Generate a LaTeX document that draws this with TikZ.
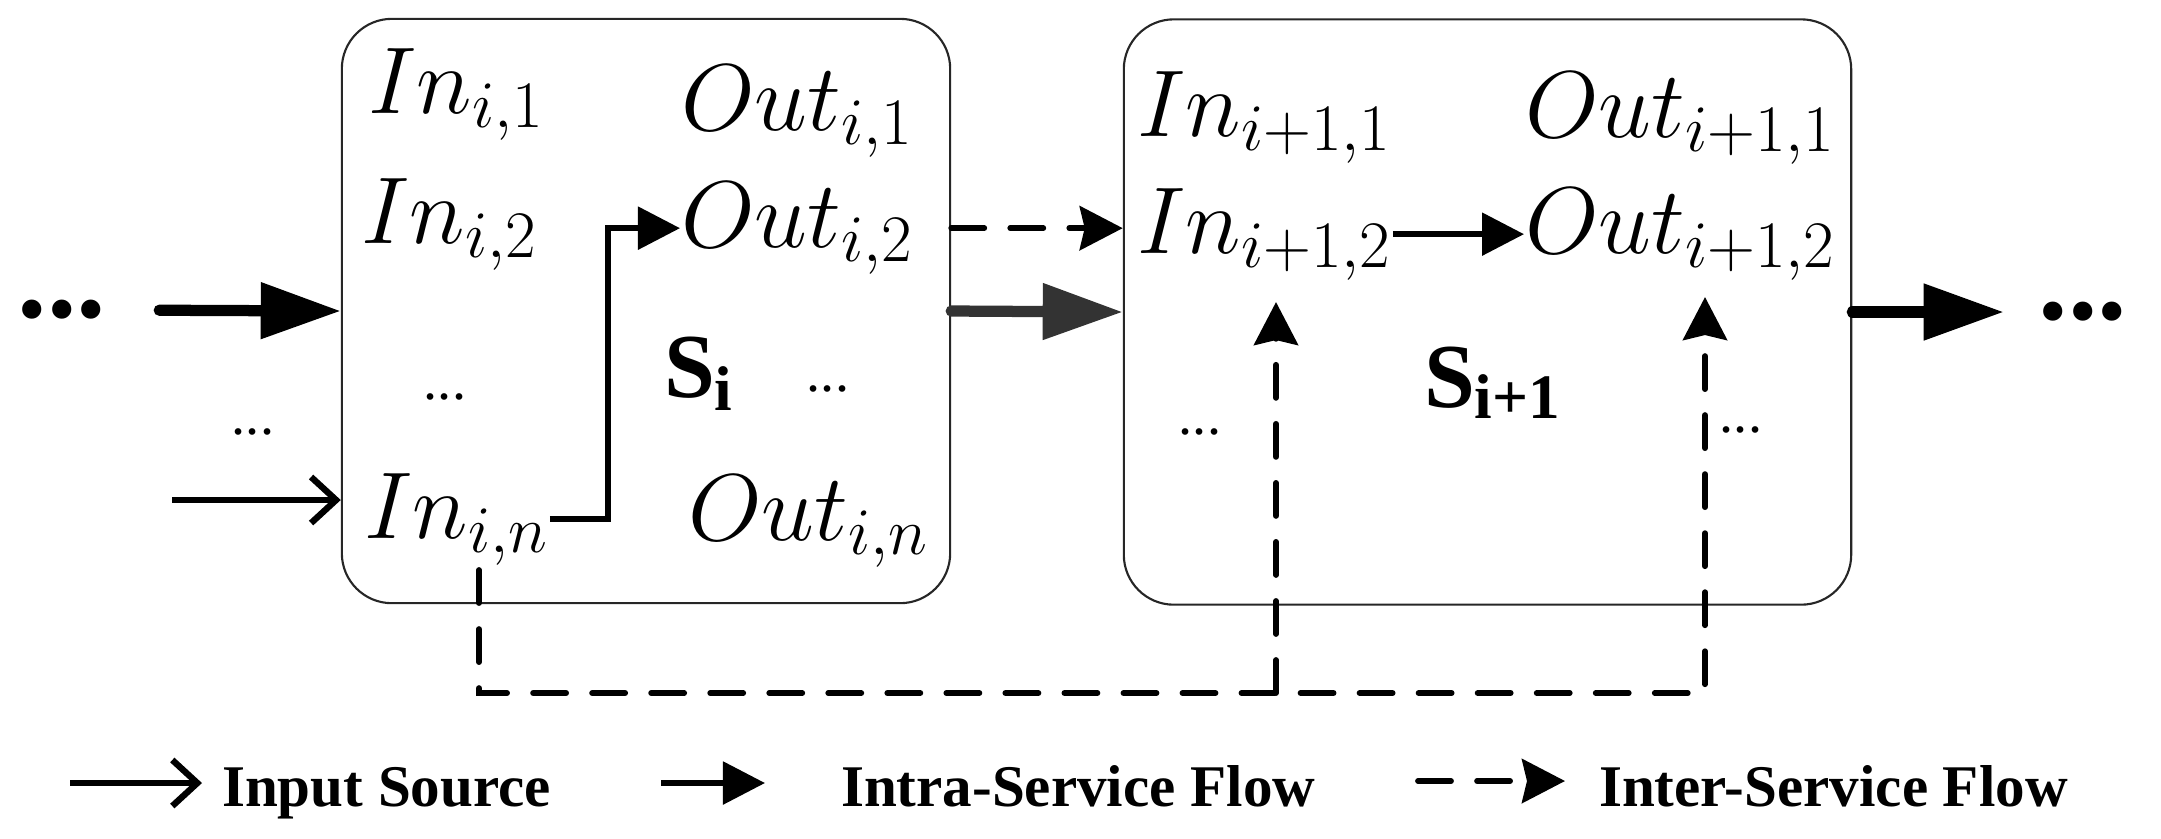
\documentclass[tikz,border=0pt]{standalone}
\usepackage{fix-cm}
\usepackage[no-math]{fontspec}
\usepackage{graphicx}
\usepackage{tikz}
\usetikzlibrary{positioning}
\usetikzlibrary{calc}
\usetikzlibrary{arrows.meta}
\newfontfamily\timesfont{Liberation Serif}
\newcommand{\subfont}{\fontsize{18}{18}\selectfont}
\tikzset{every picture/.style={line width=0.6pt},
svc/.style={draw=black!85,rounded corners=0.5cm},
lbl/.style={anchor=base west,inner sep=0pt,font=\fontsize{27}{32}\selectfont},
svcname/.style={anchor=base west,inner sep=0pt,font=\timesfont\bfseries\fontsize{26}{30}\selectfont},
bigdots/.style={inner sep=0pt,font=\timesfont\bfseries\fontsize{33.5}{36}\selectfont},
few/.style={inner sep=0pt,font=\timesfont\fontsize{16}{18}\selectfont},
key/.style={anchor=base west,inner sep=0pt,font=\timesfont\bfseries\fontsize{16.8}{20}\selectfont},
flow/.style={line width=3.2pt,line cap=round,-{Triangle[length=0.8cm,width=0.54cm]}},
intra/.style={line width=1.6pt,-{Triangle[length=0.42cm,width=0.42cm]}},
inter/.style={line width=1.65pt,line cap=round,dash pattern=on 0.33cm off 0.26cm,-{Stealth[length=0.43cm,width=0.44cm,inset=0.05cm]}},
source/.style={line width=1.8pt,-{Straight Barb[length=0.25cm,width=0.46cm]}}}

\begin{document}
\begin{tikzpicture}[x=0.01cm,y=-0.01cm]
\useasboundingbox (0,0) rectangle (2161,838);
\node (box1) at (646,311) [svc, minimum width=6.08cm, minimum height=5.84cm] {};
\node (box2) at (1487.5,312) [svc, minimum width=7.27cm, minimum height=5.85cm] {};

\foreach \nm/\x/\y/\txt in {ini1/367/113/{In_{i,1}}, outi1/680/130/{Out_{i,1}}, ini2/360/243/{In_{i,2}}, outi2/680/247/{Out_{i,2}}, inin/363/538/{In_{i,n}}, outin/687/540/{Out_{i,n}}, inj1/1136/136/{In_{i+1,1}}, outj1/1524/137/{Out_{i+1,1}}, inj2/1136/253/{In_{i+1,2}}, outj2/1524/253/{Out_{i+1,2}}} {
\node (\nm) at (\x,\y) [lbl] {$\txt$};
}
\node (si) at (663,397) [svcname] {S\raisebox{-3.7pt}{\subfont i}};
\node (sj) at (1423,407) [svcname] {S\raisebox{-3.4pt}{\subfont i+1}};

\foreach \k/\x/\y in {1/253/432, 2/445/397, 3/828/389, 4/1200/432, 5/1741/430} {
\node (e\k) at (\x,\y) [few] {...};
}
\node (ld) at (62,310) [bigdots] {...};
\node (rd) at (2083,312) [bigdots] {...};

\draw[flow, shorten <=0.52cm] (ld.east) -- (box1.west);
\draw[flow, black!80] (box1.east) -- (box2.west);
\draw[flow, shorten >=0.34cm] (box2.east) -- (rd.west);

\coordinate (src) at (172,500);
\draw[source] (src) -- (src -| box1.west);
\draw[intra] (inin.east) -- ++(58,0) |- (outi2.west);
\draw[inter] (box1.east |- outi2.east) -- (box2.west |- outi2.east);
\draw[intra] (inj2.east) -- (outj2.west);

\coordinate (drop) at (479,570);
\coordinate (bot) at (479,693);
\coordinate (t1) at (1276,302);
\coordinate (t2) at (1705,297);
\draw[inter] (drop) -- (bot) -| (t2);
\draw[inter] (bot -| t1) -- (t1);

\coordinate (ka) at (70,783);
\coordinate (kb) at (202,783);
\draw[source] (ka) -- (kb);
\node (ksrc) at (221,806) [key] {Input Source};
\coordinate (kc) at (661,783);
\coordinate (kd) at (765,783);
\draw[intra] (kc) -- (kd);
\node (kintra) at (840,806) [key] {Intra-Service Flow};
\coordinate (ke) at (1418,781);
\coordinate (kf) at (1565,781);
\draw[inter] (ke) -- (kf);
\node (kinter) at (1598,806) [key] {Inter-Service Flow};
\end{tikzpicture}
\end{document}
